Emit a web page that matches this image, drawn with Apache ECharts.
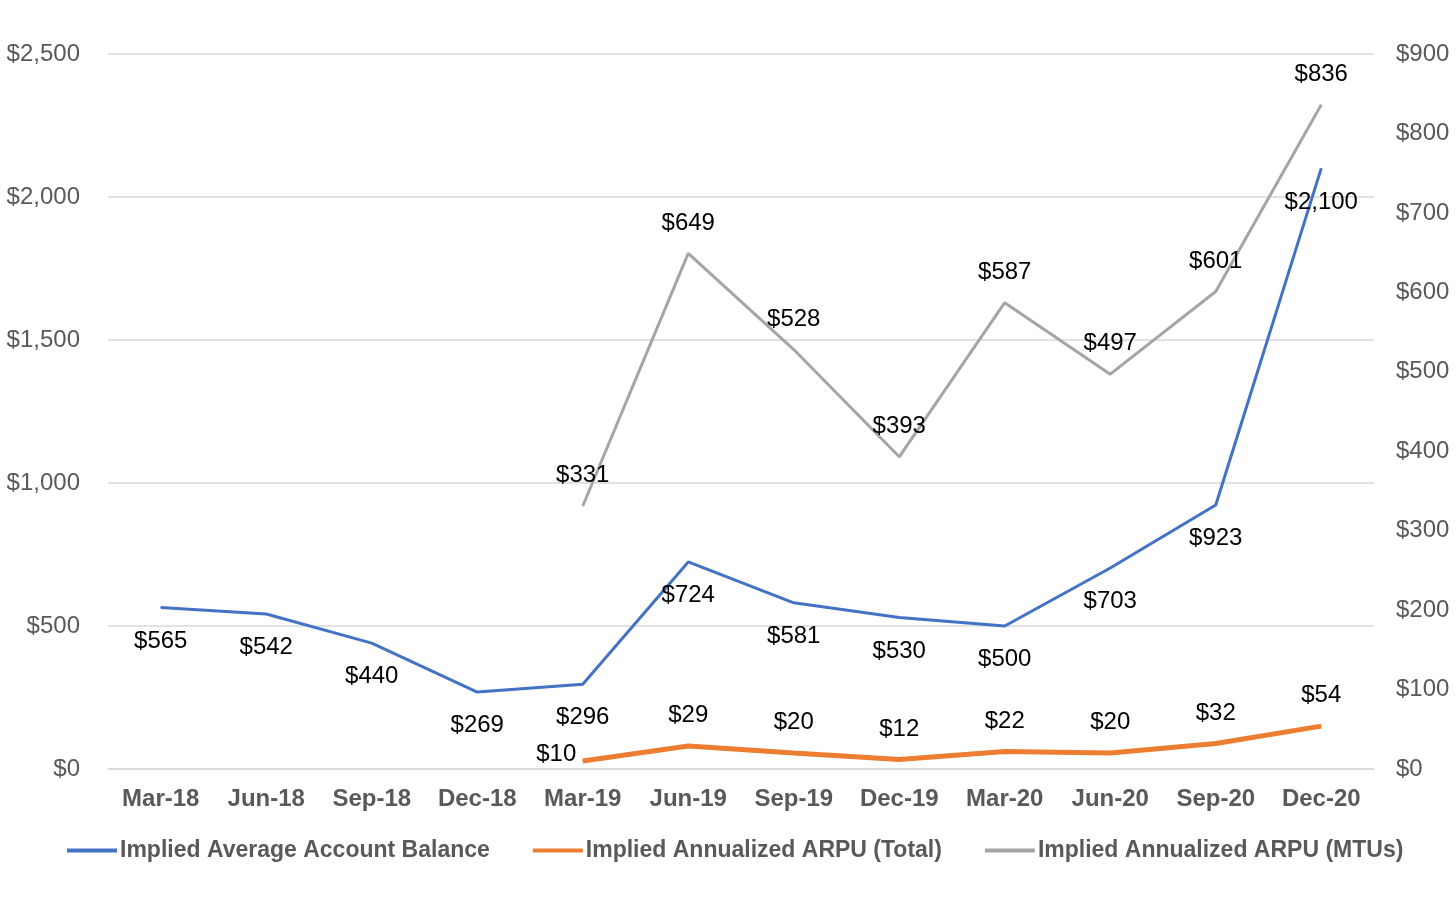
<!DOCTYPE html>
<html>
<head>
<meta charset="utf-8">
<script src="https://cdn.jsdelivr.net/npm/echarts@6/dist/echarts.min.js"></script>
<style>
  html, body { margin: 0; padding: 0; background: #fff; }
  #chart { width: 1456px; height: 898px; }
</style>
</head>
<body>
<div id="chart"></div>
<script>
// categories + values
var quarters = ["Mar-18", "Jun-18", "Sep-18", "Dec-18", "Mar-19", "Jun-19", "Sep-19", "Dec-19", "Mar-20", "Jun-20", "Sep-20", "Dec-20"];
var avgBalance = [565, 542, 440, 269, 296, 724, 581, 530, 500, 703, 923, 2100];
var arpuTotal = [null, null, null, null, 10, 29, 20, 12, 22, 20, 32, 54];
var arpuMtu = [null, null, null, null, 331, 649, 528, 393, 587, 497, 601, 836];

var seriesNames = ["Implied Average Account Balance", "Implied Annualized ARPU (Total)", "Implied Annualized ARPU (MTUs)"];
var colors = ["#4472C4", "#ED7D31", "#A5A5A5"];

function money(v) {
  return "$" + Number(v).toLocaleString("en-US");
}

var chartDom = document.getElementById("chart");
var myChart = echarts.init(chartDom);

var font = "Liberation Sans, Arial, sans-serif";

function pointLabel(pos, dist) {
  return {
    show: true,
    position: pos,
    distance: dist,
    formatter: function (p) { return money(p.value); },
    color: "#000",
    fontSize: 24,
    fontFamily: font
  };
}

// orange: first point label sits to the left
var arpuTotalData = arpuTotal.map(function (v, i) {
  if (i === 4) {
    return { value: v, label: { position: "left", distance: 6, offset: [0, -7] } };
  }
  return v;
});

var option = {
  animation: false,
  textStyle: { fontFamily: font },
  grid: { left: 108, right: 82, top: 54, bottom: 129, containLabel: false },
  legend: {
    bottom: 31,
    left: 62,
    itemWidth: 50,
    itemHeight: 4,
    itemGap: 43,
    textStyle: { color: "#595959", fontSize: 23, fontWeight: "bold", padding: [0, 0, 0, -2] },
    data: [
      { name: seriesNames[0], icon: "rect", itemStyle: { color: colors[0] } },
      { name: seriesNames[1], icon: "rect", itemStyle: { color: colors[1] } },
      { name: seriesNames[2], icon: "rect", itemStyle: { color: colors[2] } }
    ]
  },
  xAxis: {
    type: "category",
    data: quarters,
    boundaryGap: true,
    axisLine: { show: true, lineStyle: { color: "#D9D9D9", width: 1.5 } },
    axisTick: { show: false },
    axisLabel: { color: "#595959", fontSize: 24, fontWeight: "bold", margin: 18 }
  },
  yAxis: [
    {
      type: "value",
      min: 0,
      max: 2500,
      interval: 500,
      axisLine: { show: false },
      axisTick: { show: false },
      axisLabel: { color: "#595959", fontSize: 24, margin: 28, formatter: money },
      splitLine: { lineStyle: { color: "#D9D9D9", width: 1.5 } }
    },
    {
      type: "value",
      min: 0,
      max: 900,
      interval: 100,
      position: "right",
      axisLine: { show: false },
      axisTick: { show: false },
      axisLabel: { color: "#595959", fontSize: 24, margin: 22, formatter: money },
      splitLine: { show: false }
    }
  ],
  series: [
    {
      name: seriesNames[0],
      type: "line",
      yAxisIndex: 0,
      data: avgBalance,
      symbol: "circle",
      symbolSize: 1,
      color: colors[0],
      lineStyle: { width: 3, color: colors[0] },
      label: pointLabel("bottom", 21),
      z: 3
    },
    {
      name: seriesNames[1],
      type: "line",
      yAxisIndex: 1,
      data: arpuTotalData,
      symbol: "circle",
      symbolSize: 1,
      color: colors[1],
      lineStyle: { width: 5, color: colors[1] },
      label: pointLabel("top", 18),
      z: 2
    },
    {
      name: seriesNames[2],
      type: "line",
      yAxisIndex: 1,
      data: arpuMtu,
      symbol: "circle",
      symbolSize: 1,
      color: colors[2],
      lineStyle: { width: 3, color: colors[2] },
      label: pointLabel("top", 18),
      z: 2
    }
  ]
};

myChart.setOption(option);
</script>
</body>
</html>
